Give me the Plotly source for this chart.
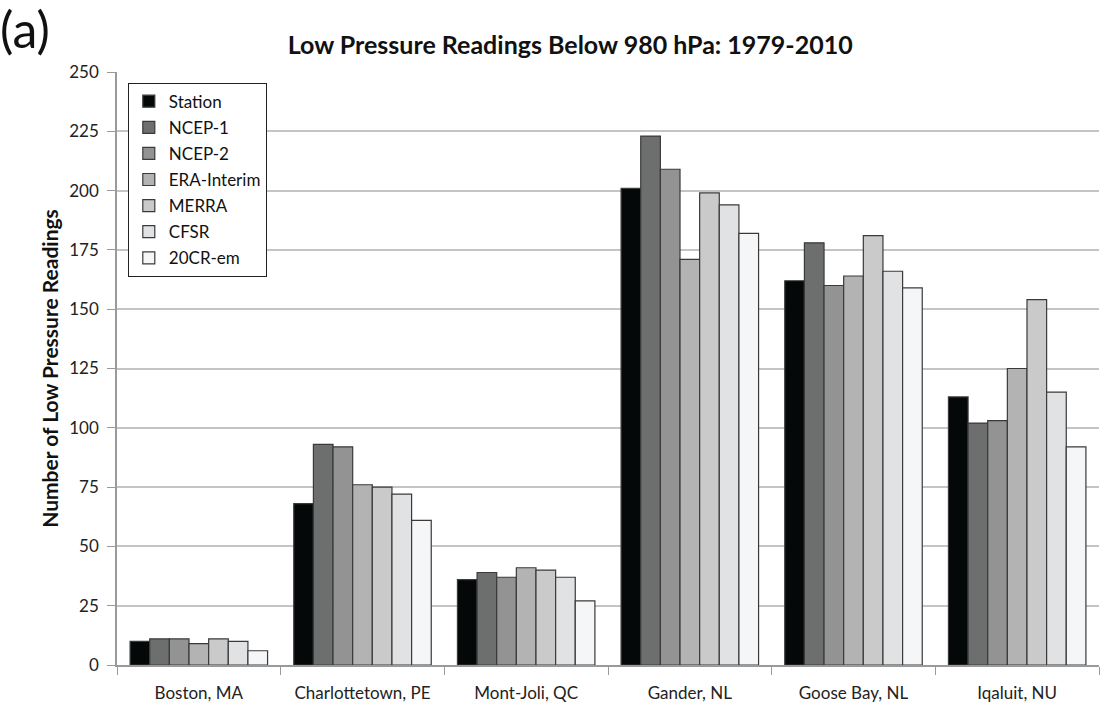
import plotly.graph_objects as go

# Stations and dataset counts of low-pressure readings below 980 hPa (1979-2010)
stations = ["Boston, MA", "Charlottetown, PE", "Mont-Joli, QC",
            "Gander, NL", "Goose Bay, NL", "Iqaluit, NU"]

station_obs = [10, 68, 36, 201, 162, 113]
ncep1 = [11, 93, 39, 223, 178, 102]
ncep2 = [11, 92, 37, 209, 160, 103]
era_interim = [9, 76, 41, 171, 164, 125]
merra = [11, 75, 40, 199, 181, 154]
cfsr = [10, 72, 37, 194, 166, 115]
cr20_em = [6, 61, 27, 182, 159, 92]

series_names = ["Station", "NCEP-1", "NCEP-2", "ERA-Interim", "MERRA", "CFSR", "20CR-em"]
series_values = [station_obs, ncep1, ncep2, era_interim, merra, cfsr, cr20_em]
series_colors = ["#050808", "#6d6f6e", "#939393", "#b3b3b3", "#cacaca", "#e1e2e3", "#f5f6f8"]

y_ticks = list(range(0, 251, 25))

FONT = "Lato, 'Open Sans', sans-serif"

fig = go.Figure()
for name, vals, col in zip(series_names, series_values, series_colors):
    fig.add_trace(go.Bar(
        name=name, x=stations, y=vals,
        marker=dict(color=col, line=dict(color="#3a3a3a", width=1.2)),
        legendgroup=name,
    ))

fig.update_layout(
    width=1105, height=712,
    margin=dict(l=117, r=6, t=72, b=47),
    paper_bgcolor="white", plot_bgcolor="white",
    barmode="group", bargap=0.16, bargroupgap=0,
    font=dict(family=FONT, color="#222222"),
    title=dict(text="<b>Low Pressure Readings Below 980 hPa: 1979-2010</b>",
               x=0.516, xanchor="center", y=0.937, yanchor="middle",
               font=dict(size=25, color="#111111", family=FONT)),
    legend=dict(x=0.011, y=0.982, xanchor="left", yanchor="top",
                bgcolor="white", bordercolor="#222222", borderwidth=1,
                font=dict(size=17, color="#111111", family=FONT),
                tracegroupgap=1, itemwidth=30),
    showlegend=True,
)

fig.update_xaxes(
    type="category", tickson="boundaries",
    ticks="outside", ticklen=8, tickcolor="#9a9a9a",
    showline=True, linecolor="#9a9a9a", linewidth=1.5,
    showgrid=False, ticklabelstandoff=12,
    tickfont=dict(size=17, color="#222222", family=FONT),
)

fig.update_yaxes(
    range=[0, 250], tickvals=y_ticks,
    ticks="outside", ticklen=8, tickcolor="#9a9a9a",
    showline=True, linecolor="#9a9a9a", linewidth=1.5,
    showgrid=True, gridcolor="#c4c4c4", gridwidth=1.5,
    zeroline=False, ticklabelstandoff=5,
    tickfont=dict(size=17, color="#222222", family=FONT),
    title=dict(text="<b>Number of Low Pressure Readings</b>", standoff=5,
               font=dict(size=21, color="#111111", family=FONT)),
)

fig.add_annotation(text="(a)", xref="paper", yref="paper",
                   x=-0.121, y=1.072, xanchor="left", yanchor="middle",
                   showarrow=False, font=dict(size=50, color="#111111", family=FONT))

fig.write_html("out.html")
